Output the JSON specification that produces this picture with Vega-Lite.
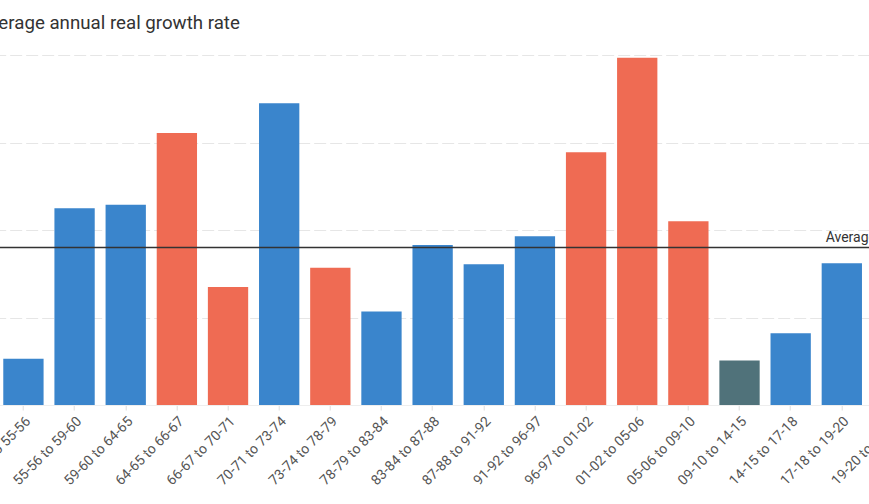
{
  "$schema": "https://vega.github.io/schema/vega-lite/v6.json",
  "autosize": {"type": "none"},
  "width": 961,
  "height": 350,
  "padding": {"left": -22.3, "top": 55, "right": -69.7, "bottom": 99},
  "background": "white",
  "config": {
    "font": "Roboto",
    "view": {"stroke": null}
  },
  "title": {
    "text": "Average annual real growth rate",
    "anchor": "start",
    "frame": "group",
    "fontSize": 18.7,
    "fontWeight": "normal",
    "color": "#333333",
    "baseline": "alphabetic",
    "offset": 7
  },
  "datasets": {
    "growth": [
      {"period": "50-51 to 55-56", "rate": 0.53, "group": "blue"},
      {"period": "55-56 to 59-60", "rate": 2.25, "group": "blue"},
      {"period": "59-60 to 64-65", "rate": 2.29, "group": "blue"},
      {"period": "64-65 to 66-67", "rate": 3.11, "group": "red"},
      {"period": "66-67 to 70-71", "rate": 1.35, "group": "red"},
      {"period": "70-71 to 73-74", "rate": 3.45, "group": "blue"},
      {"period": "73-74 to 78-79", "rate": 1.57, "group": "red"},
      {"period": "78-79 to 83-84", "rate": 1.07, "group": "blue"},
      {"period": "83-84 to 87-88", "rate": 1.83, "group": "blue"},
      {"period": "87-88 to 91-92", "rate": 1.61, "group": "blue"},
      {"period": "91-92 to 96-97", "rate": 1.93, "group": "blue"},
      {"period": "96-97 to 01-02", "rate": 2.89, "group": "red"},
      {"period": "01-02 to 05-06", "rate": 3.97, "group": "red"},
      {"period": "05-06 to 09-10", "rate": 2.1, "group": "red"},
      {"period": "09-10 to 14-15", "rate": 0.51, "group": "teal"},
      {"period": "14-15 to 17-18", "rate": 0.82, "group": "blue"},
      {"period": "17-18 to 19-20", "rate": 1.62, "group": "blue"},
      {"period": "19-20 to 22-23", "rate": 1.9, "group": "blue"}
    ],
    "avg": [{"label": "Average", "value": 1.8, "at": "17-18 to 19-20"}]
  },
  "encoding": {
    "x": {
      "field": "period",
      "type": "nominal",
      "sort": null,
      "scale": {
        "domain": ["50-51 to 55-56", "55-56 to 59-60", "59-60 to 64-65", "64-65 to 66-67", "66-67 to 70-71", "70-71 to 73-74", "73-74 to 78-79", "78-79 to 83-84", "83-84 to 87-88", "87-88 to 91-92", "91-92 to 96-97", "96-97 to 01-02", "01-02 to 05-06", "05-06 to 09-10", "09-10 to 14-15", "14-15 to 17-18", "17-18 to 19-20", "19-20 to 22-23"],
        "paddingInner": 0.212,
        "paddingOuter": 0.5
      },
      "axis": {
        "title": null,
        "labelAngle": -45,
        "labelFontSize": 14,
        "labelColor": "#555555",
        "labelPadding": 4,
        "tickColor": "#dddddd",
        "tickSize": 5,
        "domainColor": "#eeeeee",
        "grid": false
      }
    }
  },
  "layer": [
    {
      "data": {"name": "growth"},
      "mark": {"type": "bar"},
      "encoding": {
        "y": {
          "field": "rate",
          "type": "quantitative",
          "scale": {"domain": [0, 4]},
          "axis": {
            "title": null,
            "values": [0, 1, 2, 3, 4],
            "labels": false,
            "ticks": false,
            "domain": false,
            "gridColor": "#e6e6e6",
            "gridDash": [12, 4],
            "gridWidth": 1
          }
        },
        "color": {
          "field": "group",
          "type": "nominal",
          "legend": null,
          "scale": {
            "domain": ["blue", "red", "teal"],
            "range": ["#3a85cc", "#ef6b53", "#50727a"]
          }
        }
      }
    },
    {
      "data": {"name": "avg"},
      "mark": {"type": "rule", "color": "#333333", "strokeWidth": 1.5},
      "encoding": {"x": null, "y": {"field": "value", "type": "quantitative"}}
    },
    {
      "data": {"name": "avg"},
      "mark": {"type": "text", "align": "left", "baseline": "alphabetic", "dx": 4, "dy": -6, "fontSize": 14, "color": "#333333"},
      "encoding": {
        "x": {"field": "at", "type": "nominal", "bandPosition": 0},
        "y": {"field": "value", "type": "quantitative"},
        "text": {"field": "label"}
      }
    }
  ]
}
